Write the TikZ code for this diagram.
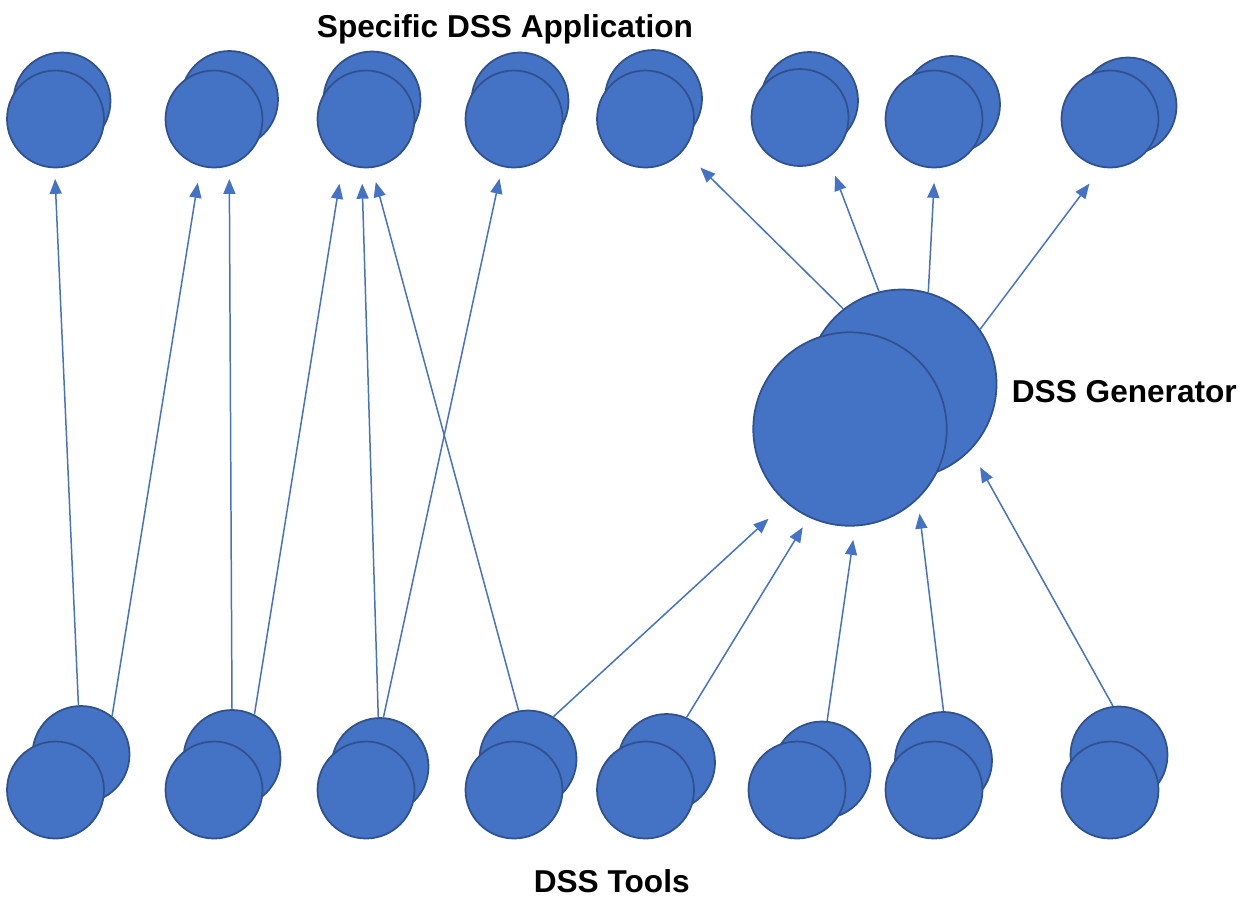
\documentclass[tikz,border=0pt]{standalone}
\usepackage{fontspec}
\setmainfont{Liberation Sans}
\usetikzlibrary{arrows.meta}
\definecolor{obl}{HTML}{4472C4}
\definecolor{obd}{HTML}{2F528F}
\begin{document}
\begin{tikzpicture}[x=0.02cm,y=-0.02cm,
  ball/.style={circle, fill=obl, draw=obd, line width=1pt, inner sep=0pt, minimum size=1.94cm},
  bigball/.style={ball, minimum size=3.87cm},
  backbig/.style={ball, minimum size=3.78cm},
  arr/.style={draw=obl, line width=0.85pt, -{Triangle[length=0.3cm,width=0.24cm]}},
  lbl/.style={font=\bfseries\fontsize{18}{20}\selectfont, inner sep=0pt, text depth=0pt}]
\useasboundingbox (0,0) rectangle (1247,897);
% top row: Specific DSS Applications
\node[ball] (ab1) at (62,101) {};
\node[ball] (a1) at (55.5,119) {};
\node[ball] (ab2) at (229.5,99.5) {};
\node[ball] (a2) at (214,119) {};
\node[ball] (ab3) at (372,100) {};
\node[ball] (a3) at (366,119) {};
\node[ball] (ab4) at (520,101) {};
\node[ball] (a4) at (514,119) {};
\node[ball] (ab5) at (653.5,98.5) {};
\node[ball] (a5) at (645.5,119) {};
\node[ball] (ab6) at (809.5,100.5) {};
\node[ball] (a6) at (800,117.5) {};
\node[ball] (ab7) at (951.5,104.5) {};
\node[ball] (a7) at (934,119) {};
\node[ball] (ab8) at (1128,106) {};
\node[ball] (a8) at (1110,119) {};
% bottom row: DSS Tools
\node[ball] (tb1) at (81,754.5) {};
\node[ball] (t1) at (55.5,790) {};
\node[ball] (tb2) at (232,758.5) {};
\node[ball] (t2) at (214,790) {};
\node[ball] (tb3) at (380,766.5) {};
\node[ball] (t3) at (366,790) {};
\node[ball] (tb4) at (528,759) {};
\node[ball] (t4) at (514,790) {};
\node[ball] (tb5) at (666.5,762.5) {};
\node[ball] (t5) at (645.5,790) {};
\node[ball] (tb6) at (822,770) {};
\node[ball] (t6) at (797,790) {};
\node[ball] (tb7) at (943.5,760.5) {};
\node[ball] (t7) at (934,790) {};
\node[ball] (tb8) at (1119,755) {};
\node[ball] (t8) at (1110,790) {};
% generator
\node[backbig] (gb) at (902,384) {};
\node[bigball] (g) at (850,429) {};
% labels
\node[lbl, anchor=base] (lapp) at (505,37.5) {Specific DSS Application};
\node[lbl, anchor=base west] (lgen) at (1011.5,402.3) {DSS Generator};
\node[lbl, anchor=base] (ltools) at (611.7,892) {DSS Tools};
% tools -> applications
\draw[arr, shorten >=0.21cm] (tb1.93.5) -- (a1.269);
\draw[arr, shorten >=0.33cm] (tb1.51) -- (a2.254);
\draw[arr, shorten >=0.26cm] (tb2.90) -- (a2.288);
\draw[arr, shorten >=0.43cm] (tb2.63.7) -- (a3.242);
\draw[arr, shorten >=0.31cm] (tb3.92.4) -- (a3.265);
\draw[arr, shorten >=0.24cm] (tb3.86.5) -- (a4.256);
\draw[arr, shorten >=0.29cm] (tb4.101.8) -- (a3.277.5);
% tools -> generator
\draw[arr, shorten >=0.475cm] (tb4.59.8) -- (g.229);
\draw[arr, shorten >=0.23cm] (tb5.66.3) -- (g.245.6);
\draw[arr, shorten >=0.27cm] (tb6.84) -- (g.273);
\draw[arr, shorten >=0.29cm] (tb7.90) -- (g.314);
\draw[arr, shorten >=0.39cm] (tb8.97) -- (gb.316);
% generator -> applications
\draw[arr, shorten >=0.48cm] (gb.128) -- (a5.320);
\draw[arr, shorten >=0.38cm] (gb.104) -- (a6.305);
\draw[arr, shorten >=0.29cm] (gb.74) -- (a7.271);
\draw[arr, shorten >=0.40cm] (gb.35) -- (a8.260.5);
\end{tikzpicture}
\end{document}
